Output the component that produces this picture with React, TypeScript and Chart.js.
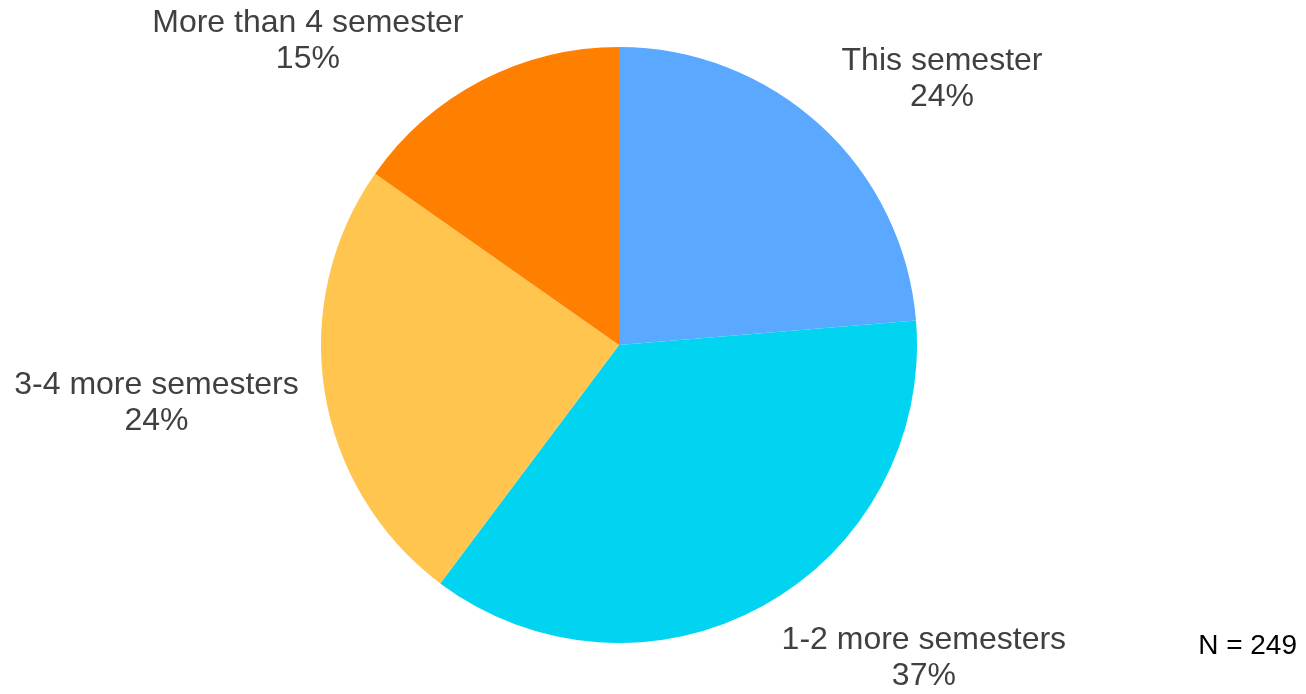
import React, { useEffect, useRef } from "react";
import { Chart, registerables } from "chart.js";

Chart.register(...registerables);

const categories = ["This semester", "1-2 more semesters", "3-4 more semesters", "More than 4 semester"];
const counts = [59, 91, 61, 38];
const colors = ["#5AA8FF", "#00D4F0", "#FFC54F", "#FF8000"];
const totalLabel = "N = 249";
// label anchor offsets (relative to pie centre, in units of pie radius)
const labelOffsets = [
  [1.084, -0.922],
  [1.023, 1.019],
  [-1.552, 0.164],
  [-1.044, -1.052],
];

const labelPlugin = {
  id: "outsideLabels",
  afterDraw(chart: any) {
    const ctx = chart.ctx;
    const meta = chart.getDatasetMeta(0);
    const data = chart.data.datasets[0].data as number[];
    const total = data.reduce((a, b) => a + b, 0);
    ctx.save();
    ctx.fillStyle = "#404040";
    ctx.textAlign = "center";
    ctx.textBaseline = "alphabetic";
    ctx.font = '32px "Liberation Sans", Arial, sans-serif';
    meta.data.forEach((arc: any, i: number) => {
      const r = arc.outerRadius;
      const x = arc.x + labelOffsets[i][0] * r;
      const y = arc.y + labelOffsets[i][1] * r;
      const pct = Math.round((data[i] / total) * 100) + "%";
      ctx.fillText(chart.data.labels[i], x, y);
      ctx.fillText(pct, x, y + 36);
    });
    ctx.fillStyle = "#000000";
    ctx.textAlign = "right";
    ctx.font = '28px "Liberation Sans", Arial, sans-serif';
    ctx.fillText(totalLabel, chart.width - 9, chart.height - 40);
    ctx.restore();
  },
};

export default function App() {
  const ref = useRef<HTMLCanvasElement>(null);
  useEffect(() => {
    document.body.style.margin = "0";
    const chart = new Chart(ref.current!, {
      type: "pie",
      data: {
        labels: categories,
        datasets: [
          {
            data: counts,
            backgroundColor: colors,
            borderWidth: 0,
          },
        ],
      },
      options: {
        responsive: false,
        animation: false,
        layout: { padding: { left: 321, right: 389, top: 47, bottom: 51 } },
        plugins: {
          legend: { display: false },
          tooltip: { enabled: false },
        },
      },
      plugins: [labelPlugin],
    });
    return () => chart.destroy();
  }, []);
  return (
    <div style={{ position: "absolute", left: 0, top: 0, width: 1306, height: 694, background: "#fff" }}>
      <canvas ref={ref} width={1306} height={694} />
    </div>
  );
}
